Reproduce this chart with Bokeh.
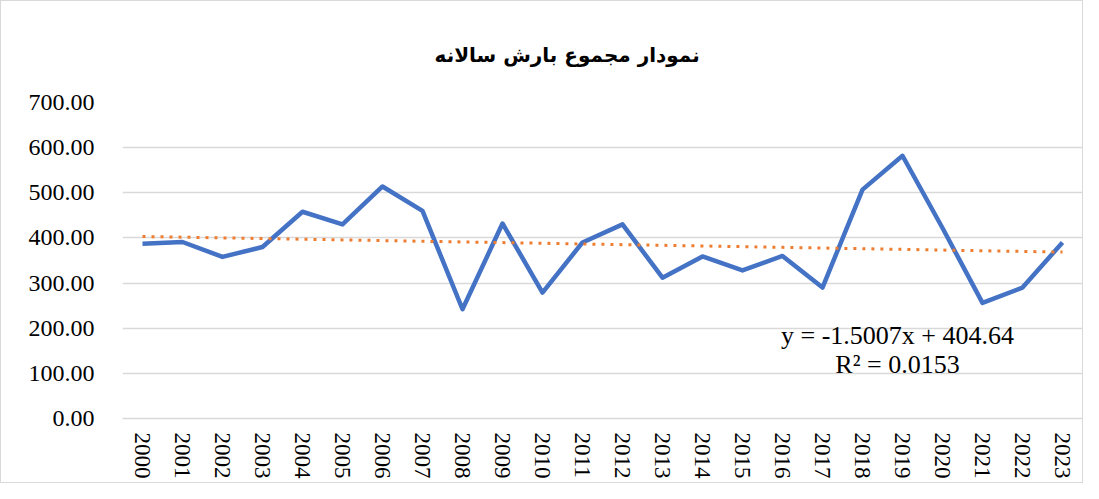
from bokeh.plotting import figure
from bokeh.models import FactorRange, Range1d, Label, NumeralTickFormatter, FixedTicker
from bokeh.embed import file_html
from bokeh.resources import INLINE

years = [str(y) for y in range(2000, 2024)]
rainfall = [387, 391, 358, 380, 458, 430, 514, 460, 242, 432, 279, 390,
            430, 312, 359, 328, 360, 290, 507, 582, 422, 256, 290, 390]
trend_slope = -1.5007
trend_intercept = 404.64
r_squared = 0.0153
title_text = "نمودار مجموع بارش سالانه"
y_ticks = [0, 100, 200, 300, 400, 500, 600, 700]

trend = [trend_slope * (i + 1) + trend_intercept for i in range(len(years))]

p = figure(width=1083, height=483, x_range=FactorRange(*years),
           y_range=Range1d(0, 700), output_backend="svg", toolbar_location=None,
           min_border_left=121, min_border_right=2, min_border_top=101,
           min_border_bottom=66, title=title_text)
p.outline_line_color = None
p.background_fill_color = "white"
p.border_fill_color = "white"

p.title.align = "left"
p.title.offset = 312
p.title.text_font = "DejaVu Sans"
p.title.text_font_size = "20px"
p.title.text_font_style = "bold"
p.title.text_color = "#000000"
p.title.standoff = 72

p.line(years, rainfall, line_color="#4472C4", line_width=4.5, line_join="round")
p.line(years, trend, line_color="#ED7D31", line_width=3, line_dash="3 6")

p.yaxis.ticker = FixedTicker(ticks=y_ticks)
p.yaxis.formatter = NumeralTickFormatter(format="0.00")
p.yaxis.axis_line_color = None
p.yaxis.major_tick_line_color = None
p.yaxis.minor_tick_line_color = None
p.yaxis.major_label_text_font = "Liberation Serif"
p.yaxis.major_label_text_font_size = "24px"
p.yaxis.major_label_text_color = "#000000"
p.yaxis.major_label_standoff = 22

p.xaxis.axis_line_color = "#d9d9d9"
p.xaxis.axis_line_width = 1.5
p.xaxis.major_tick_line_color = None
p.xaxis.minor_tick_line_color = None
p.xaxis.major_label_orientation = "vertical"
p.xaxis.major_label_text_font = "Liberation Serif"
p.xaxis.major_label_text_font_size = "23px"
p.xaxis.major_label_text_color = "#000000"
p.xaxis.major_label_standoff = 8

p.xgrid.grid_line_color = None
p.ygrid.grid_line_color = "#d9d9d9"
p.ygrid.grid_line_width = 1.5

p.add_layout(Label(x=19.375, y=184, text=f"y = {trend_slope}x + {trend_intercept}",
                   text_font="Liberation Serif", text_font_size="26px",
                   text_align="center", text_baseline="middle", text_color="#000000"))
p.add_layout(Label(x=19.375, y=119, text=f"R² = {r_squared}",
                   text_font="Liberation Serif", text_font_size="26px",
                   text_align="center", text_baseline="middle", text_color="#000000"))

p.styles = {"border": "1px solid #d9d9d9"}

open("out.html", "w").write(file_html(p, INLINE))
